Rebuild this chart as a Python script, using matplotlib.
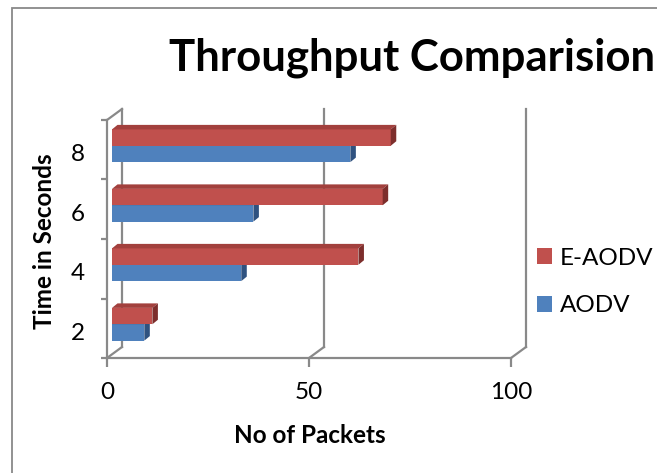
import numpy as np
import matplotlib
matplotlib.use("Agg")
import matplotlib.pyplot as plt
from matplotlib.patches import Polygon, Rectangle
from matplotlib.lines import Line2D

# data
times = ["2", "4", "6", "8"]
aodv = [8, 32, 35, 59]
eaodv = [10, 61, 67, 69]
x_ticks = [0, 50, 100]

W, H = 657, 473
grey = "#898989"
red, red_top, red_side = "#C0504D", "#A2403D", "#7D2E2C"
blue, blue_top, blue_side = "#4F81BD", "#3E6798", "#2F5280"

plt.rcParams["font.family"] = ["Lato", "DejaVu Sans"]

def fx(px):
    return px / W

def fy(py):
    return 1 - py / H

fig = plt.figure(figsize=(W / 100, H / 100), dpi=100)
fig.patch.set_facecolor("white")

# chart area border (runs off the right and bottom edges)
fig.patches.append(Rectangle((fx(12), -0.2), 2, fy(8) + 0.2, transform=fig.transFigure,
                             fill=False, edgecolor=grey, linewidth=1.3))

x0_px, x1_px, ytop_px, ybot_px = 107, 511, 120, 358
ax = fig.add_axes([fx(x0_px), fy(ybot_px), (x1_px - x0_px) / W, (ybot_px - ytop_px) / H])
ax.set_xlim(0, 100)
ax.set_ylim(0, 4)
ax.set_facecolor("none")

sx = (x1_px - x0_px) / 100.0   # px per packet
sy = (ybot_px - ytop_px) / 4.0  # px per category

# back wall offset and bar depth, in data units
bdx, bdy = 15 / sx, 11 / sy
dx0, dy0 = 5 / sx, 4 / sy
ddx, ddy = 5.5 / sx, 4.5 / sy

# back wall gridlines and floor diagonals
for xv in x_ticks:
    ax.add_line(Line2D([xv + bdx, xv + bdx], [bdy, 4 + bdy], color=grey, lw=1.6,
                       clip_on=False, zorder=1))
    ax.add_line(Line2D([xv, xv + bdx], [0, bdy], color=grey, lw=1.6, clip_on=False, zorder=1))
ax.add_line(Line2D([0, bdx], [4, 4 + bdy], color=grey, lw=1.6, clip_on=False, zorder=1))

centers = np.arange(len(times)) + 0.5
h = 0.275

def bar3d(ys, vals, face, top, side, label):
    bars = ax.barh(ys, vals, left=dx0, height=h, color=face, label=label,
                   zorder=3, clip_on=False)
    for y, v in zip(ys, vals):
        yb, yt = y - h / 2, y + h / 2
        xr = dx0 + v
        ax.add_patch(Polygon([(dx0, yt), (xr, yt), (xr + ddx, yt + ddy), (dx0 + ddx, yt + ddy)],
                             closed=True, facecolor=top, edgecolor="none", zorder=3, clip_on=False))
        ax.add_patch(Polygon([(xr, yb), (xr, yt), (xr + ddx, yt + ddy), (xr + ddx, yb + ddy)],
                             closed=True, facecolor=side, edgecolor="none", zorder=3, clip_on=False))
    return bars

b_aodv = bar3d(centers + dy0 - h / 2, aodv, blue, blue_top, blue_side, "AODV")
b_eaodv = bar3d(centers + dy0 + h / 2, eaodv, red, red_top, red_side, "E-AODV")

# front axes
for s in ["top", "right"]:
    ax.spines[s].set_visible(False)
for s in ["left", "bottom"]:
    ax.spines[s].set_color(grey)
    ax.spines[s].set_linewidth(1.6)

ax.set_xticks(x_ticks)
ax.set_xticklabels([str(v) for v in x_ticks])
ax.tick_params(axis="x", direction="out", length=6.5, width=1.6, color=grey,
               labelsize=17.5, pad=11)
ax.set_yticks(np.arange(5))
ax.set_yticklabels([])
ax.tick_params(axis="y", which="major", direction="out", length=4.5, width=1.6, color=grey)
ax.set_yticks(centers - 0.05, minor=True)
ax.set_yticklabels(times, minor=True)
ax.tick_params(axis="y", which="minor", length=0, labelsize=17.5, pad=16)

fig.text(fx(310), fy(435), "No of Packets", ha="center", va="center",
         fontsize=17.5, fontweight="bold")
fig.text(fx(45), fy(241), "Time in Seconds", ha="center", va="center",
         rotation=90, fontsize=17.5, fontweight="bold")
fig.text(fx(169), fy(58), "Throughput Comparision", ha="left", va="center",
         fontsize=31.5, fontweight="bold")

fig.legend(handles=[b_eaodv, b_aodv], labels=["E-AODV", "AODV"], loc="center left",
           bbox_to_anchor=(fx(537), fy(282)), frameon=False, fontsize=17.5,
           borderpad=0, borderaxespad=0,
           handlelength=0.62, handleheight=0.62, handletextpad=0.33, labelspacing=1.1)

fig.savefig("out.png", dpi=100)
